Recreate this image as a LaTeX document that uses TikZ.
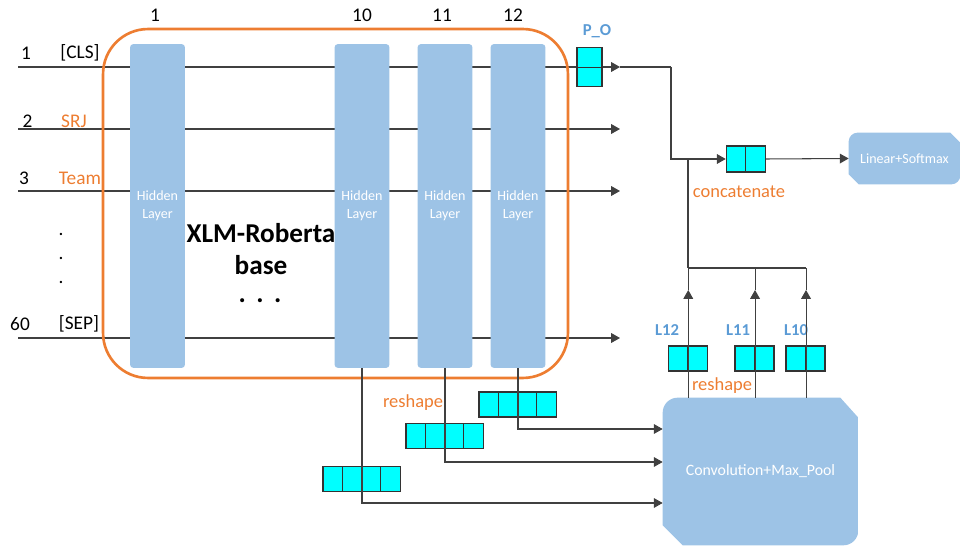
\documentclass[tikz,border=0pt]{standalone}
\usepackage{fontspec}
\setmainfont{Carlito}
\usetikzlibrary{arrows.meta,backgrounds}
\definecolor{accentorange}{RGB}{237,125,49}
\definecolor{barblue}{RGB}{157,195,230}
\definecolor{tagblue}{RGB}{91,155,213}
\definecolor{cellcyan}{RGB}{0,255,255}

\begin{document}
\begin{tikzpicture}[x=0.02cm, y=-0.02cm, >={Triangle[length=5pt,width=5.5pt]},
    hidden/.style={fill=barblue, rounded corners=2pt, minimum width=1.1cm,
      minimum height=6.48cm, inner sep=0pt, text=white,
      font=\fontsize{8}{10}\selectfont, align=center},
    cell/.style={draw=black!80, fill=cellcyan, line width=0.6pt,
      minimum width=0.39cm, minimum height=0.5cm, inner sep=0pt},
    conn/.style={draw=black!75, line width=0.6pt},
    tok/.style={font=\fontsize{11}{13}\selectfont},
    note/.style={text=accentorange, font=\fontsize{10.5}{12}\selectfont},
    tag/.style={text=tagblue, font=\bfseries\fontsize{9.5}{11}\selectfont},
    blockbox/.style={text=white, inner sep=0pt}]
    %% pixel grid: x in [0, 961], y in [0, 550] (y downwards)
    \useasboundingbox (0,0) rectangle (961,550);

    % ---- TOKEN LINES ----
    \foreach \y/\n in {67/1, 129/2, 191/3, 338/60} {
      \coordinate (t\n) at (18,\y);
      \coordinate (e\n) at (620,\y);
      \draw[conn,->] (t\n) -- (e\n);
    }
    \node[tok] (n1)  at (26,53)   {1};
    \node[tok] (w1)  at (80,53)   {[CLS]};
    \node[tok] (n2)  at (27.5,121) {2};
    \node[tok, text=accentorange] (w2) at (74,121) {SRJ};
    \node[tok] (n3)  at (24,178)  {3};
    \node[tok, text=accentorange] (w3) at (80,178) {Team};
    \foreach \y [count=\i] in {236,260,284} {
      \node[tok, anchor=base, inner sep=0pt] (dot\i) at (61,\y) {.};
    }
    \node[tok] (n60) at (20,324)  {60};
    \node[tok] (w60) at (79,324)  {[SEP]};

    % ---- ENCODER ----
    \node[draw=accentorange, line width=1.5pt, rounded corners=0.9cm,
      minimum width=9.3cm, minimum height=6.98cm] (xlmr) at (335.5,203.5) {};
    \node[hidden] (h1)  at (157.5,206) {Hidden\\Layer};
    \node[hidden] (h10) at (362,206)   {Hidden\\Layer};
    \node[hidden] (h11) at (445,206)   {Hidden\\Layer};
    \node[hidden] (h12) at (518,206)   {Hidden\\Layer};
    \node[tok] (num1)  at (155,15) {1};
    \node[tok] (num10) at (362,15) {10};
    \node[tok] (num11) at (442,15) {11};
    \node[tok] (num12) at (513,15) {12};
    \node[font=\bfseries\fontsize{15.5}{18}\selectfont, align=center, inner sep=0pt]
      (xlmrtext) at (261,249) {XLM-Roberta\\base};
    \node[font=\bfseries\fontsize{15.5}{18}\selectfont, inner sep=0pt]
      (more) at (260,301) {.\hspace{6pt}.\hspace{6pt}.};

    % ---- POOLED OUTPUT ----
    \node[cell, minimum width=0.5cm, minimum height=0.39cm] (po1) at (589.5,57.5) {};
    \node[cell, minimum width=0.5cm, minimum height=0.39cm] (po2) at (589.5,77) {};
    \node[tag] (potag) at (597,31) {P\_O};

    % ---- CONCATENATE + CLASSIFIER ----
    \node[cell, minimum height=0.52cm] (cc1) at (736,159)   {};
    \node[cell, minimum height=0.52cm] (cc2) at (755.5,159) {};
    \node[note] (cctext) at (739,192) {concatenate};
    \node[blockbox, minimum width=2.22cm, minimum height=1.02cm,
      font=\fontsize{8}{10}\selectfont] (lin) at (904.5,158.5) {Linear+Softmax};
    \node[blockbox, minimum width=3.9cm, minimum height=2.94cm,
      font=\fontsize{9}{11}\selectfont] (conv) at (760.5,471.5) {Convolution+Max\_Pool};
    \begin{scope}[on background layer]
      \begin{scope}
        \clip (lin.north west) -- ([xshift=-0.2cm]lin.north east)
          -- ([yshift=-0.2cm]lin.north east) -- (lin.south east)
          -- ([xshift=0.2cm]lin.south west) -- ([yshift=0.2cm]lin.south west) -- cycle;
        \fill[barblue, rounded corners=0.18cm] (lin.north west) rectangle (lin.south east);
      \end{scope}
      \begin{scope}
        \clip (conv.north west) -- ([xshift=-0.36cm]conv.north east)
          -- ([yshift=-0.4cm]conv.north east) -- (conv.south east)
          -- ([xshift=0.4cm]conv.south west) -- ([yshift=0.4cm]conv.south west) -- cycle;
        \fill[barblue, rounded corners=0.3cm] (conv.north west) rectangle (conv.south east);
      \end{scope}
    \end{scope}

    % ---- CNN OUTPUTS ----
    \node[cell] (l12a) at (678,358.5)    {};
    \node[cell] (l12b) at (697.5,358.5)  {};
    \node[cell] (l11a) at (744.75,358.5) {};
    \node[cell] (l11b) at (764.25,358.5) {};
    \node[cell] (l10a) at (795.75,358.5) {};
    \node[cell] (l10b) at (815.25,358.5) {};
    \node[tag] (l12tag) at (667,330) {L12};
    \node[tag] (l11tag) at (738,330) {L11};
    \node[tag] (l10tag) at (796,330) {L10};
    \node[note] (rs1) at (722,386) {reshape};

    % ---- RESHAPED LAYERS ----
    \foreach \k in {0,...,3} {
      \node[cell, minimum width=0.386cm] (r12-\k) at ({488.65+19.3*\k},404.5) {};
      \node[cell, minimum width=0.386cm] (r11-\k) at ({415.65+19.3*\k},436)   {};
      \node[cell, minimum width=0.386cm] (r10-\k) at ({332.65+19.3*\k},479)   {};
    }
    \node[note] (rs2) at (413,403) {reshape};

    % ---- CONNECTORS ----
    \coordinate (j1) at (671,67);
    \coordinate (j2) at (688,268);
    \coordinate (tip) at (0,290);
    \draw[conn] (e1) -- (j1);
    \draw[conn,->] (j1) |- (cc1.west);
    \draw[conn] (j2) -- (j2 |- cc1.west);
    \draw[conn] (j2) -- (j2 -| l10a.east);
    \foreach \c in {l12a, l11a, l10a} {
      \draw[conn,->] (\c.east |- conv.north) -- (\c.east |- tip);
      \draw[conn] (\c.east |- tip) -- (\c.east |- j2);
    }
    \draw[conn,->] (cc2.east) -- (lin.west);
    \draw[conn,->] (h12.south) |- ([yshift=0.85cm]conv.west);
    \draw[conn,->] (h11.south) |- ([yshift=0.19cm]conv.west);
    \draw[conn,->] (h10.south) |- ([yshift=-0.63cm]conv.west);

  \end{tikzpicture}
\end{document}
